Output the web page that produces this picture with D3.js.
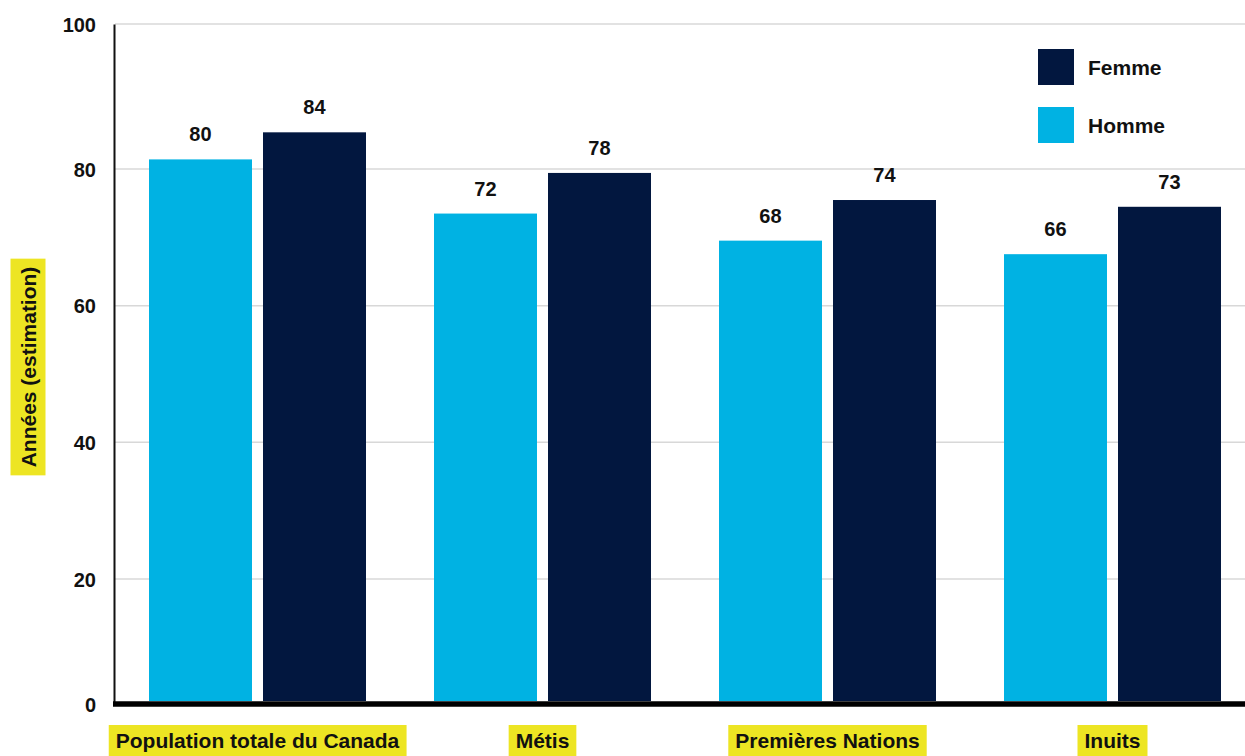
<!DOCTYPE html>
<html lang="fr">
<head>
<meta charset="UTF-8">
<title>Espérance de vie</title>
<style>
  body { margin: 0; background: #fff; }
  svg text { font-family: "Liberation Sans", Arial, sans-serif; font-weight: bold; fill: #111; }
</style>
</head>
<body>
<div id="chart"></div>
<script src="https://d3js.org/d3.v7.min.js"></script>
<script>
// data
const categories = ["Population totale du Canada", "Métis", "Premières Nations", "Inuits"]
const series = ["Homme", "Femme"]
const homme = [80, 72, 68, 66]
const femme = [84, 78, 74, 73]
const yTicks = [0, 20, 40, 60, 80, 100]
const yTitle = "Années (estimation)"

const COLORS = { Homme: "#00b2e3", Femme: "#02173f" }
const YELLOW = "#ede523"

const W = 1245, H = 756
const LEFT = 115, TOP = 24, BASE = 701

const svg = d3.select("#chart").append("svg")
    .attr("width", W)
    .attr("height", H)

const rows = categories.map((c, i) => ({ cat: c, Homme: homme[i], Femme: femme[i] }))

const x = d3.scaleBand()
    .domain(categories)
    .range([LEFT, 1255])
    .paddingInner(0.2386)
    .paddingOuter(0.1193)

const xs = d3.scaleBand()
    .domain(series)
    .range([0, x.bandwidth()])
    .paddingInner(0.0965)

// bars
const y = d3.scaleLinear().domain([0, 100]).range([BASE, TOP])

// the grid in the source is not spaced the same as the bars,
// so the axis gets its own (piecewise) scale
const yAxisScale = d3.scaleLinear()
    .domain([0, 20, 80, 100])
    .range([704, 579, 169, TOP])

// gridlines
svg.append("g")
    .selectAll("line")
    .data(yTicks.filter(d => d > 0))
    .join("line")
    .attr("x1", LEFT)
    .attr("x2", W)
    .attr("y1", d => yAxisScale(d))
    .attr("y2", d => yAxisScale(d))
    .attr("stroke", "#d8d8d8")
    .attr("stroke-width", 1.5)

// y axis
const yAxis = svg.append("g")
    .attr("transform", `translate(${LEFT - 1},0)`)
    .call(d3.axisLeft(yAxisScale).tickValues(yTicks).tickSize(0).tickPadding(18))
yAxis.select(".domain").attr("stroke", "#111").attr("stroke-width", 2)
yAxis.selectAll("text")
    .style("font-size", "20px")
    .style("font-family", "Liberation Sans, Arial, sans-serif")
    .style("font-weight", "bold")
    .attr("fill", "#111")
    .attr("dy", "0.36em")

// bars
const groups = svg.append("g")
    .selectAll("g")
    .data(rows)
    .join("g")
    .attr("transform", d => `translate(${x(d.cat)},0)`)

groups.selectAll("rect")
    .data(d => series.map(s => ({ s, v: d[s] })))
    .join("rect")
    .attr("x", d => xs(d.s))
    .attr("width", xs.bandwidth())
    .attr("y", d => y(d.v))
    .attr("height", d => BASE - y(d.v))
    .attr("fill", d => COLORS[d.s])

groups.selectAll("text.val")
    .data(d => series.map(s => ({ s, v: d[s] })))
    .join("text")
    .attr("class", "val")
    .attr("x", d => xs(d.s) + xs.bandwidth() / 2)
    .attr("y", d => y(d.v) - 18)
    .attr("text-anchor", "middle")
    .style("font-size", "20px")
    .text(d => d.v)

// baseline
svg.append("line")
    .attr("x1", LEFT - 2)
    .attr("x2", W)
    .attr("y1", 704)
    .attr("y2", 704)
    .attr("stroke", "#000")
    .attr("stroke-width", 5.5)

// category labels on yellow boxes
const xl = svg.append("g")
    .selectAll("g")
    .data(categories)
    .join("g")
    .attr("transform", d => `translate(${x(d) + x.bandwidth() / 2},0)`)

xl.append("text")
    .attr("text-anchor", "middle")
    .attr("y", 748)
    .style("font-size", "21px")
    .text(d => d)

xl.insert("rect", "text")
    .each(function () {
        const bb = this.parentNode.querySelector("text").getBBox()
        d3.select(this)
            .attr("x", bb.x - 7)
            .attr("width", bb.width + 14)
            .attr("y", 725)
            .attr("height", 40)
    })
    .attr("fill", YELLOW)

// y title
const yt = svg.append("g").attr("transform", "translate(28,367) rotate(-90)")
yt.append("text")
    .attr("text-anchor", "middle")
    .attr("dy", "0.36em")
    .style("font-size", "21px")
    .text(yTitle)
const tb = yt.select("text").node().getBBox()
yt.insert("rect", "text")
    .attr("x", tb.x - 8)
    .attr("y", -17.5)
    .attr("width", tb.width + 16)
    .attr("height", 35)
    .attr("fill", YELLOW)

// legend
const legend = svg.append("g")
    .selectAll("g")
    .data(["Femme", "Homme"])
    .join("g")
    .attr("transform", (d, i) => `translate(1038,${49 + i * 58})`)

legend.append("rect")
    .attr("width", 36)
    .attr("height", 36)
    .attr("fill", d => COLORS[d])

legend.append("text")
    .attr("x", 50)
    .attr("y", 18)
    .attr("dy", "0.36em")
    .style("font-size", "21px")
    .text(d => d)
</script>
</body>
</html>
